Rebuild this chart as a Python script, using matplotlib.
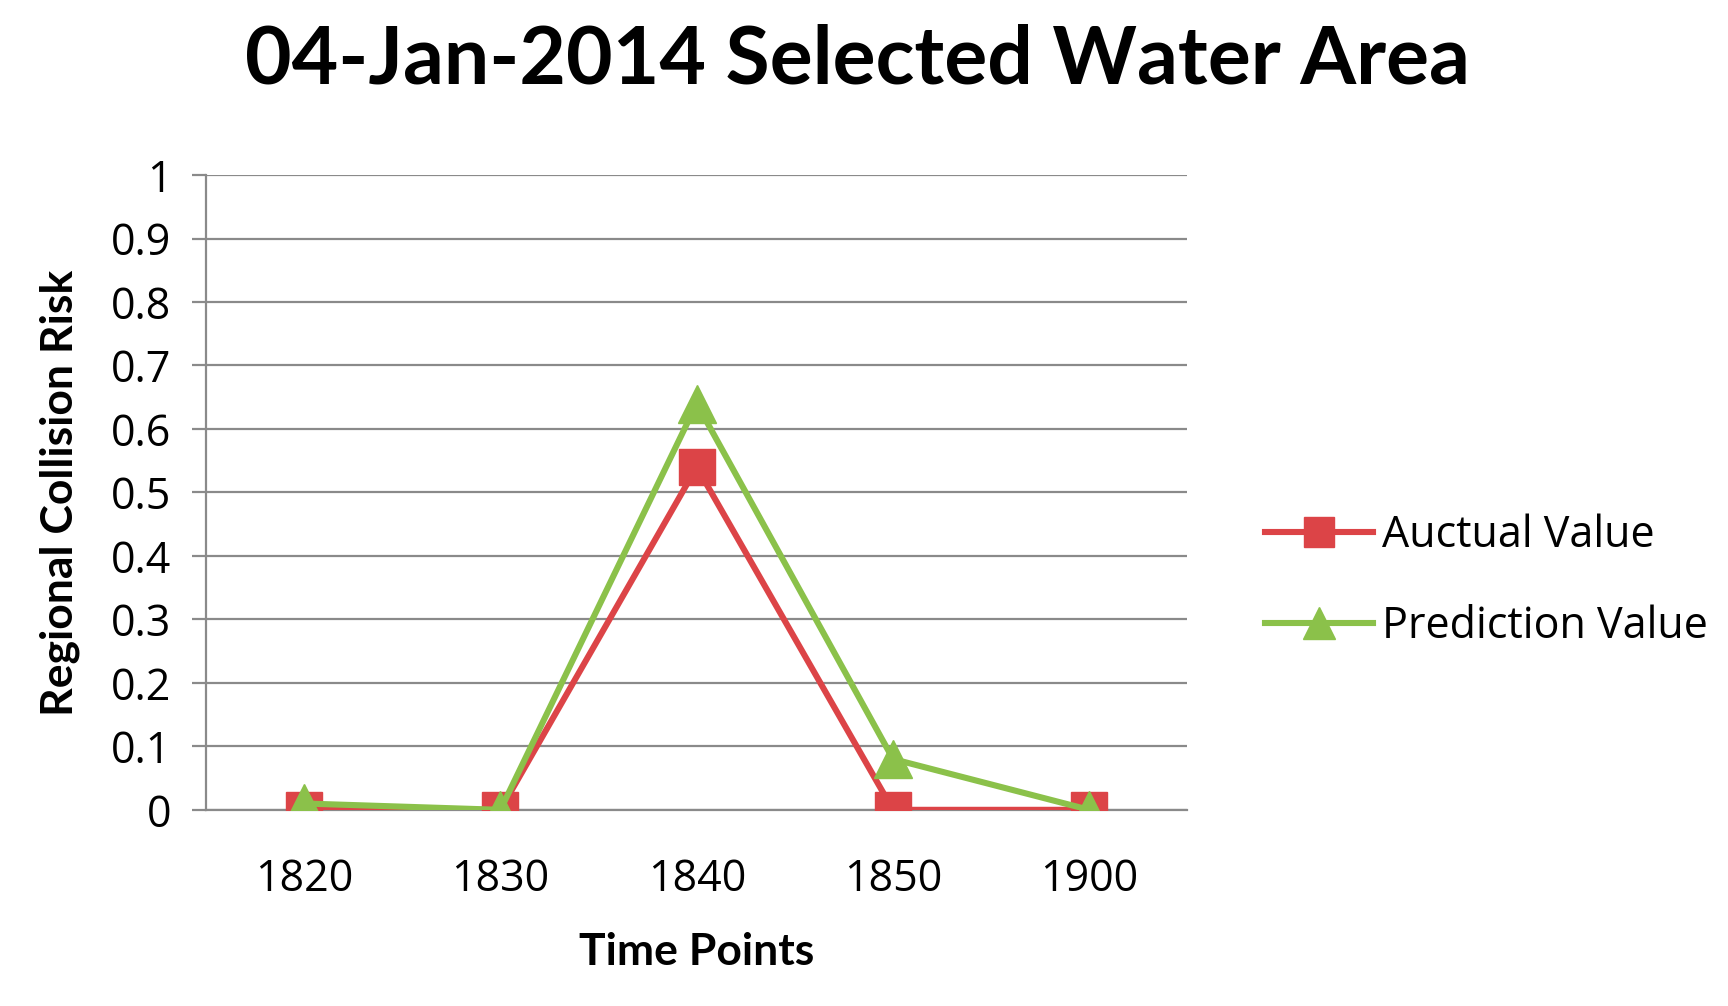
import numpy as np
import matplotlib.pyplot as plt

plt.rcParams['font.family'] = ['Lato', 'DejaVu Sans']

# Time points and risk values
time_points = ['1820', '1830', '1840', '1850', '1900']
actual = [0.0, 0.0, 0.54, 0.0, 0.0]
prediction = [0.01, 0.0, 0.64, 0.08, 0.0]

red = '#DC4447'
green = '#8BC14A'
grid_col = '#8A8A8A'
tick_font = ['Open Sans', 'DejaVu Sans']

fig = plt.figure(figsize=(17.28, 10.06), dpi=100)
ax = fig.add_axes([0.1192, 0.195, 0.568, 0.631])

x = np.arange(len(time_points))
ax.plot(x, actual, color=red, lw=4.4, marker='s', ms=26,
        label='Auctual Value', zorder=3)
ax.plot(x, prediction, color=green, lw=4.4, marker='^', ms=27,
        label='Prediction Value', zorder=4)

ax.set_xlim(-0.5, len(time_points) - 0.5)
ax.set_ylim(0, 1)
ax.set_yticks(np.arange(0, 1.01, 0.1))
ax.set_yticklabels(['0', '0.1', '0.2', '0.3', '0.4', '0.5', '0.6', '0.7',
                    '0.8', '0.9', '1'])
ax.set_xticks(x)
ax.set_xticklabels(time_points)
for lab in ax.get_xticklabels() + ax.get_yticklabels():
    lab.set_family(tick_font)
ax.yaxis.grid(True, color=grid_col, lw=1.6)
ax.set_axisbelow(True)
ax.tick_params(axis='y', length=10, width=1.6, color=grid_col,
               labelsize=31, pad=15)
ax.tick_params(axis='x', length=0, labelsize=31, pad=34)

for s in ['top', 'right']:
    ax.spines[s].set_visible(False)
ax.spines['left'].set_color(grid_col)
ax.spines['left'].set_linewidth(1.6)
ax.spines['bottom'].set_color(grid_col)
ax.spines['bottom'].set_linewidth(1.6)

ax.set_ylabel('Regional Collision Risk', fontsize=32, fontweight='bold',
              labelpad=22)
ax.set_xlabel('Time Points', fontsize=32, fontweight='bold', labelpad=22)

fig.text(0.496, 0.94, '04-Jan-2014 Selected Water Area', fontsize=58,
         fontweight='bold', ha='center', va='center')

leg = ax.legend(loc='center left', bbox_to_anchor=(1.04, 0.36),
                frameon=False, prop={'family': tick_font, 'size': 31},
                handlelength=2.5, labelspacing=1.1,
                handletextpad=0.2, markerscale=0.85)

fig.savefig('out.png', dpi=100)
